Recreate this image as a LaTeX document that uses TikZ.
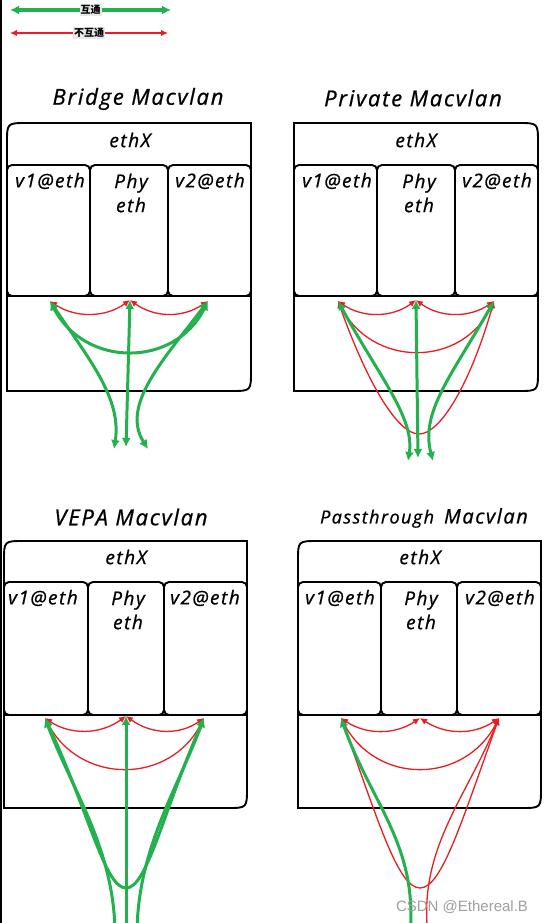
\documentclass[tikz,border=0pt]{standalone}
\usepackage{fontspec}
\usetikzlibrary{arrows.meta}
\newfontfamily\hand{Open Sans}[LetterSpace=8, ItalicFeatures={FakeBold=0.8}]
\newfontfamily\cjk{Noto Sans CJK SC}
\newfontfamily\wm{Liberation Sans}
\definecolor{pgreen}{RGB}{34,177,76}
\definecolor{pred}{RGB}{237,28,36}
\tikzset{
  box/.style={line width=1.9pt, draw=black},
  cell/.style={box, rounded corners=5pt},
  garrow/.style={line width=3pt, draw=pgreen, {Latex[length=9pt,width=9pt]}-{Latex[length=9pt,width=9pt]}},
  garrowtop/.style={line width=3pt, draw=pgreen, {Latex[length=9pt,width=9pt]}-},
  rarrow/.style={line width=1.3pt, draw=pred, {Latex[length=7pt,width=6.5pt]}-{Latex[length=7pt,width=6.5pt]}},
  rarrowtop/.style={line width=1.3pt, draw=pred, {Latex[length=7pt,width=6.5pt]}-},
  title/.style={font=\hand\itshape\fontsize{22}{24}\selectfont, inner sep=0pt},
  lbl/.style={font=\hand\itshape\fontsize{19}{24}\selectfont, inner sep=0pt, align=center},
  leglabel/.style={font=\cjk\bfseries\fontsize{10}{11}\selectfont, fill=gray!18, inner sep=1pt, text=black},
}
\begin{document}
\begin{tikzpicture}[x=1pt,y=-1pt]
\useasboundingbox (0,0) rectangle (544,923);
\fill[white] (0,0) rectangle (544,923);
\clip (0,0) rectangle (544,923);
\fill[black] (0,0) rectangle (2,923);

% legend
\coordinate (lgA) at (10,10); \coordinate (lgB) at (171,10);
\draw[garrow, line width=3.4pt] (lgA) -- node[leglabel] (lgT) {互通} (lgB);
\coordinate (lrA) at (10,33); \coordinate (lrB) at (168,33);
\draw[rarrow] (lrA) -- node[leglabel] (lrT) {不互通} (lrB);

% ================= Bridge =================
\node[title] (t1) at (138,99) {Bridge Macvlan};
\draw[box] (7,391) -- (7,143) .. controls (7,123) .. (27,123) -- (251,123) -- (251,371) .. controls (251,391) .. (231,391) -- cycle;
\draw[box] (7,296) -- (251,296);
\draw[cell] (7,165) rectangle (90,296);
\draw[cell] (90,165) rectangle (168,296);
\draw[cell] (168,165) rectangle (251,296);
\node[lbl] (e1) at (130,140) {ethX};
\node[lbl] (va1) at (50,181) {v1@eth};
\node[lbl] (p1) at (131,193) {Phy\\eth};
\node[lbl] (vb1) at (210,181) {v2@eth};
\coordinate (A1) at (50,301); \coordinate (B1) at (130,300); \coordinate (C1) at (208,301);
\coordinate (L1) at (114,449); \coordinate (M1) at (126,447); \coordinate (R1) at (148,449);
\draw[rarrow] (A1) .. controls (75,318) and (105,318) .. (B1);
\draw[rarrow] (B1) .. controls (155,318) and (183,318) .. (C1);
\draw[garrow] (A1) .. controls (85,368) and (175,368) .. (C1);
\draw[garrow] (A1) .. controls (88,358) and (122,398) .. (L1);
\draw[garrow] (B1) -- (M1);
\draw[garrow] (C1) .. controls (165,358) and (120,405) .. (R1);

% ================= Private =================
\node[title] (t2) at (413,98) {Private Macvlan};
\draw[box] (294,391) -- (294,123) -- (518,123) .. controls (538,123) .. (538,143) -- (538,371) .. controls (538,391) .. (518,391) -- cycle;
\draw[box] (294,296) -- (538,296);
\draw[cell] (294,165) rectangle (377,296);
\draw[cell] (377,165) rectangle (455,296);
\draw[cell] (455,165) rectangle (538,296);
\node[lbl] (e2) at (416,140) {ethX};
\node[lbl] (va2) at (337,181) {v1@eth};
\node[lbl] (p2) at (419,193) {Phy\\eth};
\node[lbl] (vb2) at (497,181) {v2@eth};
\coordinate (A2) at (338,301); \coordinate (B2) at (416,300); \coordinate (C2) at (494,301);
\coordinate (U2) at (419,434);
\coordinate (L2) at (408,461); \coordinate (M2) at (418,458); \coordinate (R2) at (433,461);
\draw[rarrow] (A2) .. controls (362,318) and (392,318) .. (B2);
\draw[rarrow] (B2) .. controls (440,318) and (470,318) .. (C2);
\draw[rarrow] (A2) .. controls (372,368) and (462,368) .. (C2);
\draw[rarrow] (A2) .. controls (368,385) and (398,434) .. (U2) .. controls (440,434) and (470,385) .. (C2);
\draw[garrow] (A2) .. controls (378,375) and (415,418) .. (L2);
\draw[garrow] (B2) -- (M2);
\draw[garrow] (C2) .. controls (452,375) and (420,412) .. (R2);

% ================= VEPA =================
\node[title] (t3) at (131,517) {VEPA Macvlan};
\draw[box] (4,808) -- (4,561) .. controls (4,541) .. (24,541) -- (247,541) -- (247,788) .. controls (247,808) .. (227,808) -- cycle;
\draw[box] (4,715) -- (247,715);
\draw[cell] (4,582) rectangle (88,715);
\draw[cell] (88,582) rectangle (164,715);
\draw[cell] (164,582) rectangle (247,715);
\node[lbl] (e3) at (126,557) {ethX};
\node[lbl] (va3) at (43,598) {v1@eth};
\node[lbl] (p3) at (128,610) {Phy\\eth};
\node[lbl] (vb3) at (205,598) {v2@eth};
\coordinate (A3) at (45,718); \coordinate (B3) at (126,716); \coordinate (C3) at (204,718);
\coordinate (U3) at (126,888);
\coordinate (L3) at (115,935); \coordinate (M3) at (126,935); \coordinate (R3) at (137,935);
\draw[rarrow] (A3) .. controls (70,735) and (100,735) .. (B3);
\draw[rarrow] (B3) .. controls (152,735) and (180,735) .. (C3);
\draw[rarrow] (A3) .. controls (80,785) and (170,785) .. (C3);
\draw[garrow] (A3) .. controls (90,815) and (105,888) .. (U3) .. controls (147,888) and (162,815) .. (C3);
\draw[garrowtop] (A3) .. controls (72,790) and (115,850) .. (L3);
\draw[garrowtop] (B3) -- (M3);
\draw[garrowtop] (C3) .. controls (177,790) and (137,850) .. (R3);

% ================= Passthrough =================
\node[inner sep=0pt] (t4) at (424,518) {{\hand\itshape\fontsize{18}{24}\selectfont Passthrough}\hspace{10pt}{\hand\itshape\fontsize{20}{24}\selectfont Macvlan}};
\draw[box] (298,808) -- (298,561) .. controls (298,541) .. (318,541) -- (541,541) -- (541,788) .. controls (541,808) .. (521,808) -- cycle;
\draw[box] (298,715) -- (541,715);
\draw[cell] (298,582) rectangle (381,715);
\draw[cell] (381,582) rectangle (457,715);
\draw[cell] (457,582) rectangle (541,715);
\node[lbl] (e4) at (420,557) {ethX};
\node[lbl] (va4) at (340,598) {v1@eth};
\node[lbl] (p4) at (421,610) {Phy\\eth};
\node[lbl] (vb4) at (500,598) {v2@eth};
\coordinate (A4) at (341,718); \coordinate (B4) at (420,718); \coordinate (C4) at (499,718);
\coordinate (U4) at (420,888);
\coordinate (L4) at (410,935); \coordinate (R4) at (428,935);
\draw[rarrow] (A4) .. controls (366,735) and (395,735) .. (B4);
\draw[rarrow] (B4) .. controls (446,735) and (474,735) .. (C4);
\draw[rarrow] (A4) .. controls (376,785) and (464,785) .. (C4);
\draw[rarrow] (A4) .. controls (378,820) and (398,888) .. (U4) .. controls (442,888) and (462,820) .. (C4);
\draw[rarrowtop] (C4) .. controls (465,800) and (418,850) .. (R4);
\draw[garrowtop] (A4) .. controls (372,805) and (418,845) .. (L4);
\node[font=\wm\fontsize{15}{16}\selectfont, text=gray!75, inner sep=0pt] (wm) at (462,907) {CSDN @Ethereal.B};
\end{tikzpicture}
\end{document}
